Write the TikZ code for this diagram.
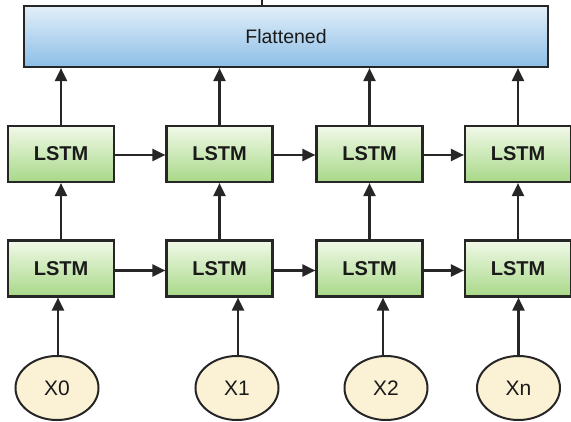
\documentclass[tikz,border=0pt]{standalone}
\usepackage{fontspec}
\setmainfont{Liberation Sans}
\usetikzlibrary{arrows.meta,shapes.geometric,calc}
\definecolor{edge}{HTML}{262626}
\definecolor{txt}{HTML}{1A1A1A}
\definecolor{blueTop}{HTML}{E2EFF9}
\definecolor{blueBot}{HTML}{8CBEE6}
\definecolor{greenTop}{HTML}{F1F9E8}
\definecolor{greenBot}{HTML}{A8D888}
\definecolor{inFill}{HTML}{FBF2D6}
\begin{document}
\begin{tikzpicture}[x=1pt,y=-1pt,
  flatbox/.style={draw=edge,line width=2.2pt,top color=blueTop,bottom color=blueBot,
    minimum width=524pt,minimum height=61pt,inner sep=0pt,text=txt,font=\fontsize{19.5}{21}\selectfont},
  lstmbox/.style={draw=edge,line width=2.2pt,top color=greenTop,bottom color=greenBot,
    minimum width=106pt,minimum height=56pt,inner sep=0pt,text=txt,font=\fontsize{20}{22}\selectfont\bfseries},
  inbox/.style={ellipse,draw=edge,line width=2pt,fill=inFill,
    minimum width=83pt,minimum height=64pt,inner sep=0pt,text=txt,font=\fontsize{21}{23}\selectfont},
  arr/.style={draw=edge,line width=2.1pt,-{Triangle[length=13pt,width=12pt]}}
]
\useasboundingbox (0,0) rectangle (571,422);

\node[flatbox] (F) at (286,36.5) {Flattened};

\foreach \i/\x in {1/61,2/219.5,3/369.5,4/518}{
  \node[lstmbox] (T\i) at (\x,154) {LSTM};
  \node[lstmbox] (B\i) at (\x,268.5) {LSTM};
}

\node[inbox] (X0) at (57,388) {X0};
\node[inbox] (X1) at (237,388) {X1};
\node[inbox] (X2) at (386,388) {X2};
\node[inbox] (Xn) at (518.5,388) {Xn};

% inputs
\draw[arr] ([xshift=1pt]X0.north) -- ([xshift=1pt]X0.north |- B1.south);
\draw[arr] ([xshift=1pt]X1.north) -- ([xshift=1pt]X1.north |- B2.south);
\draw[arr] ([xshift=-3pt]X2.north) -- ([xshift=-3pt]X2.north |- B3.south);
\draw[arr] (Xn.north) -- (Xn.north |- B4.south);

% vertical
\foreach \i in {1,2,3,4}{
  \draw[arr] (B\i.north) -- (T\i.south);
  \draw[arr] (T\i.north) -- (T\i.north |- F.south);
}

% horizontal
\draw[arr] ([yshift=-1pt]T1.east) -- ([yshift=-1pt]T2.west);
\draw[arr] ([yshift=-1pt]T2.east) -- ([yshift=-1pt]T3.west);
\draw[arr] ([yshift=-1pt]T3.east) -- ([yshift=-1pt]T4.west);
\draw[arr] ([yshift=-2pt]B1.east) -- ([yshift=-2pt]B2.west);
\draw[arr] ([yshift=-2pt]B2.east) -- ([yshift=-2pt]B3.west);
\draw[arr] ([yshift=-2pt]B3.east) -- ([yshift=-2pt]B4.west);

% small tick above the top box
\coordinate (tk) at (262,0);
\draw[edge,line width=1.4pt] (tk) -- (tk |- F.north);
\end{tikzpicture}
\end{document}
